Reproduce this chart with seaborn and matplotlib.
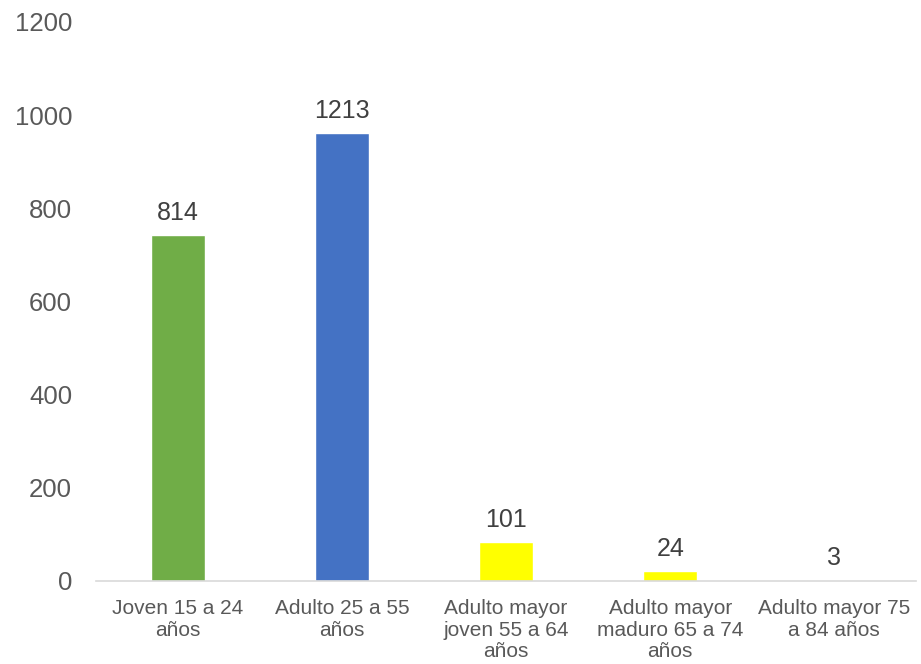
import pandas as pd
import seaborn as sns
import matplotlib.pyplot as plt

sns.set_style("white")
plt.rcParams['font.family'] = ['Liberation Sans', 'DejaVu Sans']

# data
categorias = ["Joven 15 a 24\naños", "Adulto 25 a 55\naños",
              "Adulto mayor\njoven 55 a 64\naños",
              "Adulto mayor\nmaduro 65 a 74\naños",
              "Adulto mayor 75\na 84 años"]
alturas = [742, 961, 84, 21, 2]          # drawn bar heights
etiquetas = ["814", "1213", "101", "24", "3"]  # data label text
colores = ["#70AD47", "#4472C4", "#FFFF00", "#FFFF00", "#FFFF00"]

df = pd.DataFrame({"grupo": categorias, "valor": alturas})

fig = plt.figure(figsize=(9.21, 6.64), dpi=100)
ax = fig.add_axes([0.104, 0.125, 0.891, 0.842])

sns.barplot(data=df, x="grupo", y="valor", hue="grupo", palette=colores,
            width=0.33, legend=False, ax=ax, saturation=1)

for i, (h, t) in enumerate(zip(alturas, etiquetas)):
    ax.text(i, h + 22, t, ha="center", va="bottom", fontsize=18, color="#404040")

ax.set_ylim(0, 1200)
ax.set_yticks(range(0, 1201, 200))
ax.set_xlim(-0.5, 4.5)
ax.set_xlabel("")
ax.set_ylabel("")
ax.tick_params(axis="y", labelsize=18.5, labelcolor="#595959", length=0, pad=17)
ax.tick_params(axis="x", labelsize=15, labelcolor="#595959", length=0, pad=13)
for lbl in ax.get_xticklabels():
    lbl.set_linespacing(1.18)

for s in ["top", "right", "left"]:
    ax.spines[s].set_visible(False)
ax.spines["bottom"].set_color("#D9D9D9")
ax.spines["bottom"].set_linewidth(1.2)

fig.savefig("out.png", dpi=100)
